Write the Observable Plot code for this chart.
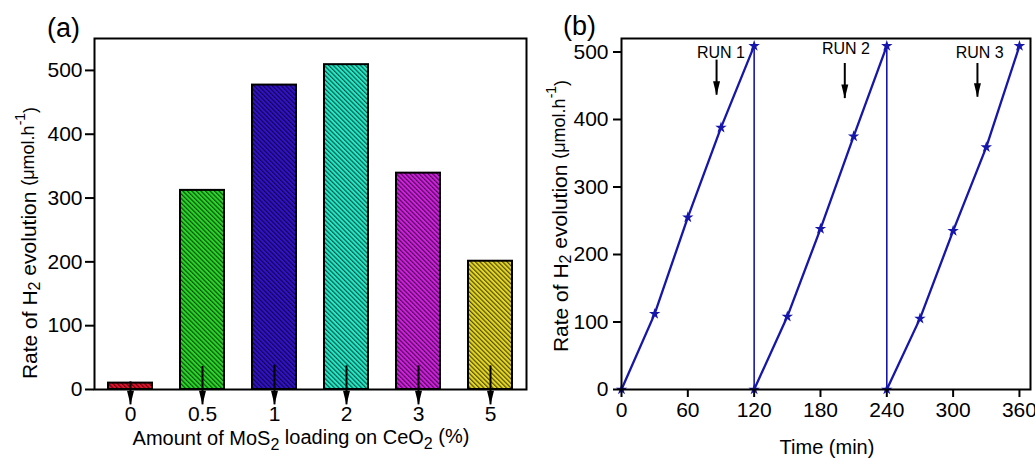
<!DOCTYPE html>
<html><head><meta charset="utf-8">
<script src="https://cdn.jsdelivr.net/npm/d3@7"></script>
<script src="https://cdn.jsdelivr.net/npm/@observablehq/plot@0.6"></script>
<style>
body{margin:0;background:#fff}
#wrap{position:relative;width:1035px;height:458px;font-family:'Liberation Sans',Arial,sans-serif}
#a{position:absolute;left:0;top:0}
#b{position:absolute;left:530px;top:0}
</style></head>
<body>
<svg width="0" height="0" style="position:absolute"><defs id="defs"></defs></svg>
<div id="wrap"><div id="a"></div><div id="b"></div></div>
<script>
// ---- Panel (a) data ----
const loadings = ["0", "0.5", "1", "2", "3", "5"];
const rates = [10, 312, 477, 509, 339, 201];
const barColors = ["#e8112d", "#27d827", "#3212cc", "#1fecc9", "#d21fe2", "#e6d81e"];
const arrowStartA = [12, 36, 38, 37, 37, 37];
const arrowTipA = [-24, -24, -24, -24, -24, -24];
const yTicksA = [0, 100, 200, 300, 400, 500];

// ---- Panel (b) data ----
const runTimes = [[0, 30, 60, 90, 120], [120, 150, 180, 210, 240], [240, 270, 300, 330, 360]];
const run1 = [0, 112, 255, 388, 509];
const run2 = [0, 108, 238, 375, 509];
const run3 = [0, 105, 235, 359, 509];
const runLabels = ["RUN 1", "RUN 2", "RUN 3"];
const runLabelT = [90, 203, 324];
const runLabelV = [499, 504, 499];
const runArrowT = [86, 202, 322];
const runArrowStart = [488, 483, 483];
const runArrowTip = [436, 431, 433];
const xTicksB = [0, 60, 120, 180, 240, 300, 360];
const yTicksB = [0, 100, 200, 300, 400, 500];
const lineColor = "#1616aa";

const font = "'Liberation Sans', Arial, sans-serif";

// hatch patterns
const defs = d3.select("#defs");
barColors.forEach((c, i) => {
  const p = defs.append("pattern").attr("id", "hatch" + i)
    .attr("patternUnits", "userSpaceOnUse").attr("width", 3.2).attr("height", 3.2)
    .attr("patternTransform", "rotate(-45)");
  p.append("rect").attr("width", 3.2).attr("height", 3.2).attr("fill", c);
  p.append("line").attr("x1", 0.6).attr("y1", 0).attr("x2", 0.6).attr("y2", 3.2)
    .attr("stroke", "#000").attr("stroke-opacity", 0.7).attr("stroke-width", 1.1);
});

// down-pointing arrow head with tip at origin
const headDown = {
  draw(ctx) {
    ctx.moveTo(-3.5, -14);
    ctx.lineTo(3.5, -14);
    ctx.lineTo(0, 0);
    ctx.closePath();
  }
};

const barData = loadings.map((k, i) => ({loading: k, rate: rates[i], pat: `url(#hatch${i})`}));
const arrowDataA = loadings.map((k, i) => ({loading: k, start: arrowStartA[i], tip: arrowTipA[i]}));

const plotA = Plot.plot({
  width: 530, height: 458,
  marginLeft: 94, marginRight: 4, marginTop: 38, marginBottom: 69,
  style: {fontFamily: font, fontSize: "20px", color: "#000", background: "transparent", overflow: "visible"},
  x: {domain: loadings, paddingInner: 0.39, paddingOuter: 0.195},
  y: {domain: [0, 550]},
  color: {type: "identity"},
  marks: [
    Plot.barY(barData, {x: "loading", y: "rate", fill: "pat", stroke: "#000", strokeWidth: 2}),
    Plot.frame({stroke: "#000", strokeWidth: 2}),
    Plot.axisY({ticks: yTicksA, tickSize: 9, tickPadding: 3, strokeWidth: 2, label: null, fontSize: 21}),
    Plot.axisX({tickSize: 0, tickPadding: 17, label: null, fontSize: 21}),
    Plot.ruleX(arrowDataA, {x: "loading", y1: "start", y2: "tip", stroke: "#000", strokeWidth: 2}),
    Plot.dot(arrowDataA, {x: "loading", y: "tip", symbol: headDown, fill: "#000", stroke: null})
  ]
});
document.getElementById("a").appendChild(plotA);

const lineData = [run1, run2, run3].flatMap((vals, r) => runTimes[r].map((t, i) => ({run: r, t, v: vals[i]})));
const drops = [run1, run2].map((vals, r) => ({t: runTimes[r][runTimes[r].length - 1], v: vals[vals.length - 1]}));
const runLabelData = runLabels.map((s, i) => ({s, t: runLabelT[i], v: runLabelV[i]}));
const runArrowData = runLabels.map((s, i) => ({t: runArrowT[i], start: runArrowStart[i], tip: runArrowTip[i]}));

const plotB = Plot.plot({
  width: 505, height: 458,
  marginLeft: 91, marginRight: 5, marginTop: 38, marginBottom: 69,
  style: {fontFamily: font, fontSize: "20px", color: "#000", background: "transparent", overflow: "visible"},
  x: {domain: [0, 370]},
  y: {domain: [0, 520]},
  marks: [
    Plot.ruleX(drops, {x: "t", y1: 0, y2: "v", stroke: lineColor, strokeWidth: 1.6}),
    Plot.line(lineData, {x: "t", y: "v", z: "run", stroke: lineColor, strokeWidth: 2.3}),
    Plot.dot(lineData, {x: "t", y: "v", symbol: "star", fill: lineColor, stroke: null, r: 3.6}),
    Plot.frame({stroke: "#000", strokeWidth: 2}),
    Plot.axisX({ticks: xTicksB, tickSize: 8, tickPadding: 5, strokeWidth: 2, label: null, fontSize: 21}),
    Plot.axisY({ticks: yTicksB, tickSize: 8, tickPadding: 5, strokeWidth: 2, label: null, fontSize: 21}),
    Plot.text(runLabelData, {x: "t", y: "v", text: "s", fontSize: 16, fill: "#000"}),
    Plot.ruleX(runArrowData, {x: "t", y1: "start", y2: "tip", stroke: "#000", strokeWidth: 2}),
    Plot.dot(runArrowData, {x: "t", y: "tip", symbol: headDown, fill: "#000", stroke: null})
  ]
});
document.getElementById("b").appendChild(plotB);

// rich-text axis labels
function yLabel(svg, cx, cy) {
  const t = d3.select(svg).append("text")
    .attr("transform", `translate(${cx},${cy}) rotate(-90)`)
    .attr("text-anchor", "middle").attr("dominant-baseline", "central")
    .attr("font-family", font).attr("font-size", 21).attr("fill", "#000");
  t.append("tspan").text("Rate of H");
  t.append("tspan").attr("font-size", 16).attr("dy", "0.3em").text("2");
  t.append("tspan").attr("dy", "-0.3em").text(" evolution ");
  t.append("tspan").attr("font-size", 18).text("(μmol.h");
  t.append("tspan").attr("font-size", 14).attr("dy", "-0.55em").text("-1");
  t.append("tspan").attr("font-size", 18).attr("dy", "0.55em").text(")");
}
function xLabelA(svg, cx, y) {
  const t = d3.select(svg).append("text").attr("x", cx).attr("y", y)
    .attr("text-anchor", "middle").attr("font-family", font).attr("font-size", 20).attr("fill", "#000");
  t.append("tspan").text("Amount of MoS");
  t.append("tspan").attr("font-size", 16).attr("dy", "0.3em").text("2");
  t.append("tspan").attr("dy", "-0.3em").text(" loading on CeO");
  t.append("tspan").attr("font-size", 16).attr("dy", "0.3em").text("2");
  t.append("tspan").attr("dy", "-0.3em").text(" (%)");
}
function plain(svg, x, y, s, size, anchor) {
  d3.select(svg).append("text").attr("x", x).attr("y", y).attr("text-anchor", anchor)
    .attr("font-family", font).attr("font-size", size).attr("fill", "#000").text(s);
}
yLabel(plotA, 29, 243);
xLabelA(plotA, 301, 445);
plain(plotA, 47, 37, "(a)", 27, "start");
yLabel(plotB, 30, 216);
plain(plotB, 297, 454, "Time (min)", 20, "middle");
plain(plotB, 33, 35, "(b)", 27, "start");
</script>
</body></html>
